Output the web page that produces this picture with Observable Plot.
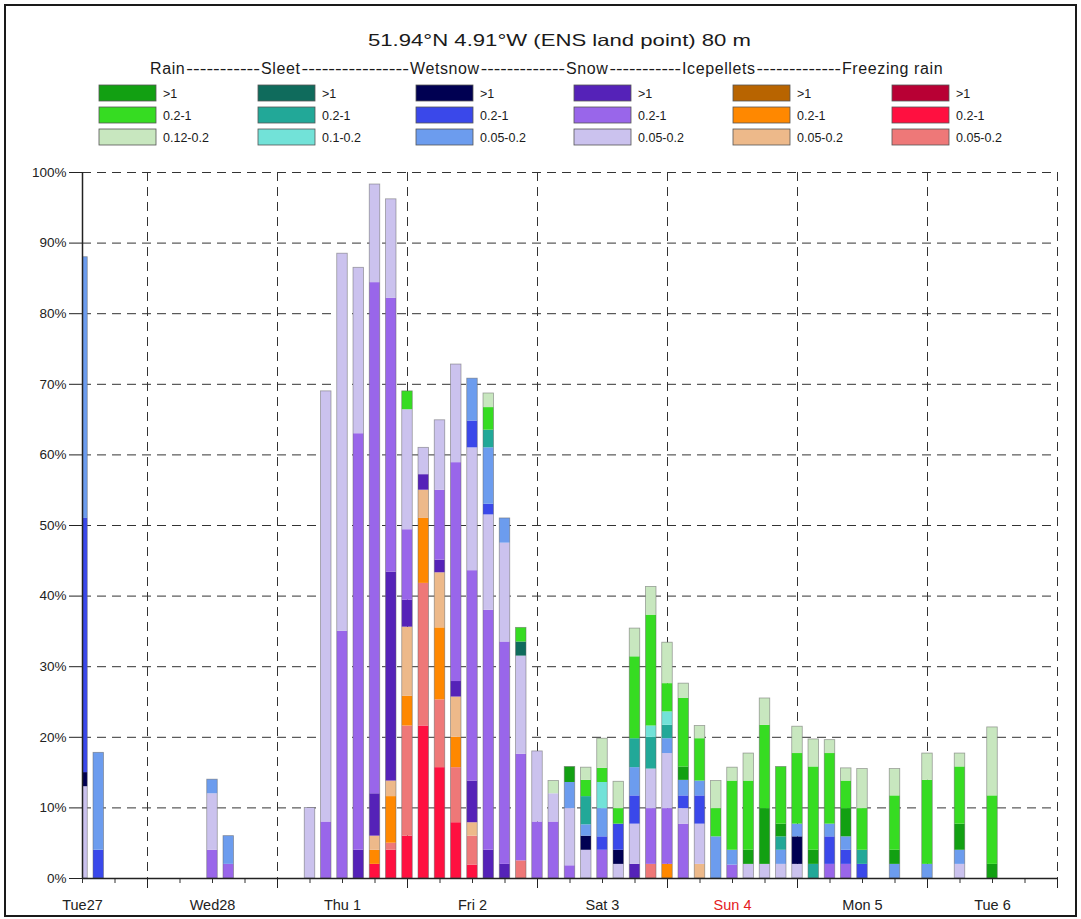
<!DOCTYPE html>
<html><head><meta charset="utf-8">
<script src="https://cdn.jsdelivr.net/npm/d3@7"></script>
<script src="https://cdn.jsdelivr.net/npm/@observablehq/plot@0.6"></script>
<style>
body{margin:0;background:#fff;font-family:"Liberation Sans",Arial,sans-serif;}
#wrap{position:relative;width:1081px;height:919px;overflow:hidden;background:#fff;}
#wrap svg{display:block;}
#frame{position:absolute;left:4px;top:4px;width:1069px;height:909px;border:2px solid #1a1a1a;pointer-events:none;}
</style></head><body><div id="wrap"><div id="frame"></div></div>
<script>
// ---------- data ----------
const title = "51.94°N 4.91°W (ENS land point) 80 m";
const groups = ["Rain","Sleet","Wetsnow","Snow","Icepellets","Freezing rain"];
const groupCodes = ["R","S","W","N","I","F"];
const classLabels = [
  [">1","0.2-1","0.12-0.2"],
  [">1","0.2-1","0.1-0.2"],
  [">1","0.2-1","0.05-0.2"],
  [">1","0.2-1","0.05-0.2"],
  [">1","0.2-1","0.05-0.2"],
  [">1","0.2-1","0.05-0.2"]
];
const groupColors = [
  ["#12a012","#36dc22","#c8e7bf"],
  ["#0f6b5c","#22a898","#72e2d8"],
  ["#000052","#3a48ea","#6c9cee"],
  ["#5522b8","#9966ea","#cbc2ee"],
  ["#b86400","#ff8800","#edb98a"],
  ["#b80034","#ff1040","#ee7878"]
];
const dayHours = [0,24,48,72,96,120,144,168];
const dayLabels = ["Tue27","Wed28","Thu 1","Fri 2","Sat 3","Sun 4","Mon 5","Tue 6"];
const gridHours = [12,36,60,84,108,132,156,180];
const yTicks = [0,10,20,30,40,50,60,70,80,90,100];

const times = [0,3,24,27,42,45,48,51,54,57,60,63,66,69,72,75,78,81,84,87,90,93,96,99,102,105,108,111,114,117,120,123,126,129,132,135,138,141,144,150,156,162,168];
const stacks = [
  [["N1",13],["W3",2],["W2",36],["W1",37]],
  [["W2",4],["W1",13.8]],
  [["N2",4],["N1",8],["W1",2]],
  [["N2",2],["W1",4]],
  [["N1",10]],
  [["N2",8],["N1",61]],
  [["N2",35],["N1",53.5]],
  [["N3",4],["N2",59],["N1",23.5]],
  [["F2",2],["I2",2],["I1",2],["N3",6],["N2",72.4],["N1",13.9]],
  [["F2",4],["F1",1],["I2",6.6],["I1",2.2],["N3",29.6],["N2",38.8],["N1",14]],
  [["F2",6],["F1",15.6],["I2",4.2],["I1",9.8],["N3",3.8],["N2",10],["N1",17],["R2",2.6]],
  [["F2",21.6],["F1",20.2],["I2",9.2],["I1",4],["N3",2.2],["N1",3.8]],
  [["F2",15.7],["F1",9.6],["I2",10.2],["I1",7.8],["N3",1.8],["N2",9.9],["N1",9.9]],
  [["F2",7.9],["F1",7.8],["I2",4.3],["I1",5.7],["N3",2.2],["N2",31],["N1",13.9]],
  [["F2",1.9],["F1",4.1],["I1",1.9],["N3",5.9],["N2",29.8],["N1",17.4],["W2",3.8],["W1",6]],
  [["N3",4],["N2",34],["N1",13.5],["W2",1.5],["W1",8],["S2",2.5],["R2",3.2],["R1",2]],
  [["N3",2],["N2",31.5],["N1",14],["W1",3.5]],
  [["F1",2.5],["N2",15.1],["N1",13.9],["S3",2],["R2",2]],
  [["N2",8],["N1",10]],
  [["N2",8],["N1",4],["R1",1.8]],
  [["N2",1.8],["N1",8.1],["W1",3.7],["R3",2.2]],
  [["N1",4],["W3",2],["W1",1.6],["S2",4],["R2",2.3],["R1",1.8]],
  [["N2",4],["W2",1.9],["W1",4],["S1",3.7],["R2",2],["R1",4.2]],
  [["N1",2],["W3",2],["W2",3.7],["R2",2.2],["R1",3.8]],
  [["N3",2],["N1",5.7],["W2",4],["W1",4],["S2",4.1],["R2",11.6],["R1",4]],
  [["F1",2],["N2",7.9],["N1",5.6],["S2",4.5],["S1",1.6],["R2",15.7],["R1",4]],
  [["I2",2],["N2",7.9],["N1",7.8],["W1",2.1],["S2",1.9],["S1",1.9],["R2",4],["R1",5.8]],
  [["N2",7.7],["N1",2.2],["W2",1.8],["W1",2.2],["R3",1.9],["R2",9.7],["R1",2.1]],
  [["I1",2],["N1",5.7],["W2",4],["W1",2.1],["R2",6],["R1",1.8]],
  [["W1",5.9],["R2",4],["R1",3.9]],
  [["N2",1.9],["W1",2.1],["R2",9.8],["R1",1.9]],
  [["N1",2],["R3",2],["R2",9.8],["R1",3.9]],
  [["N1",2],["R3",7.9],["R2",11.8],["R1",3.8]],
  [["N1",2],["W1",2],["S2",1.9],["R3",1.8],["R2",8.1]],
  [["N1",2],["W3",3.9],["W1",1.8],["R2",10],["R1",3.8]],
  [["S2",2],["R3",2],["R2",11.8],["R1",3.9]],
  [["N2",2],["W2",3.9],["W1",1.8],["R2",10],["R1",1.9]],
  [["N2",2],["W2",2],["W1",1.9],["R3",4],["R2",3.9],["R1",1.8]],
  [["W2",2],["S2",2],["R2",5.9],["R1",5.6]],
  [["W1",2],["R3",2],["R2",7.7],["R1",3.8]],
  [["W1",2],["R2",11.9],["R1",3.8]],
  [["N1",2],["W1",2],["R3",3.7],["R2",8.1],["R1",1.9]],
  [["R3",2],["R2",9.7],["R1",9.7]]
];

// ---------- derived ----------
const colorOf = {};
groupCodes.forEach((g, gi) => { colorOf[g+"3"] = groupColors[gi][0]; colorOf[g+"2"] = groupColors[gi][1]; colorOf[g+"1"] = groupColors[gi][2]; });
const rows = [];
times.forEach((t, i) => {
  let acc = 0;
  for (const [c, v] of stacks[i]) { rows.push({t, c, y1: acc, y2: acc + v}); acc += v; }
});
const totals = times.map((t, i) => ({t, total: d3.sum(stacks[i], d => d[1])}));
const halfW = 0.97;
const minorHours = d3.range(0, 181, 6);

const FONT = '"Liberation Sans", Arial, Helvetica, sans-serif';
const wrap = document.getElementById("wrap");

// ---------- header (title + legend) ----------
const H = 150;
const hdr = d3.create("svg").attr("width", 1081).attr("height", H)
  .attr("font-family", FONT).attr("fill", "#1a1a1a");
wrap.appendChild(hdr.node());
hdr.append("text").attr("x", 368).attr("y", 46).attr("font-size", 16.5)
  .attr("textLength", 383).attr("lengthAdjust", "spacingAndGlyphs").text(title);
const wordX = [150, 261, 410, 566, 682, 842];
const wordEls = groups.map((g, i) =>
  hdr.append("text").attr("x", wordX[i]).attr("y", 74).attr("font-size", 16)
    .attr("letter-spacing", 0.6).text(g));
groups.forEach((g, i) => {
  if (i < groups.length - 1) {
    const w = wordEls[i].node().getComputedTextLength();
    const x0 = wordX[i] + w + 1, x1 = wordX[i+1] - 1;
    const n = Math.max(1, Math.round((x1 - x0) / 6.6));
    hdr.append("text").attr("x", x0).attr("y", 74).attr("font-size", 16)
      .attr("textLength", x1 - x0).attr("lengthAdjust", "spacingAndGlyphs").text("-".repeat(n));
  }
});
const colX = [99, 258, 416, 574, 733, 892];
const rowY = [85, 107, 129];
groups.forEach((g, gi) => {
  for (let r = 0; r < 3; r++) {
    hdr.append("rect").attr("x", colX[gi]).attr("y", rowY[r]).attr("width", 57).attr("height", 16)
      .attr("fill", groupColors[gi][r]).attr("stroke", "#555").attr("stroke-width", 0.8);
    hdr.append("text").attr("x", colX[gi] + 64).attr("y", rowY[r] + 12.5).attr("font-size", 12.5)
      .text(classLabels[gi][r]);
  }
});

// ---------- plot ----------
const chart = Plot.plot({
  width: 1081,
  height: 919 - H,
  marginTop: 172 - H,
  marginLeft: 82,
  marginRight: 24,
  marginBottom: 41,
  x: {domain: [0, 180]},
  y: {domain: [0, 100]},
  style: {fontFamily: FONT, background: "transparent", color: "#222", overflow: "visible"},
  marks: [
    Plot.ruleY(yTicks.slice(1), {stroke: "#333", strokeDasharray: "9,6", strokeWidth: 1}),
    Plot.ruleX(gridHours, {stroke: "#333", strokeDasharray: "9,6", strokeWidth: 1}),
    Plot.rect(rows, {x1: d => d.t - halfW, x2: d => d.t + halfW, y1: "y1", y2: "y2", fill: d => colorOf[d.c], clip: true}),
    Plot.rect(totals, {x1: d => d.t - halfW, x2: d => d.t + halfW, y1: 0, y2: "total", fill: "none", stroke: "#666", strokeWidth: 0.8, strokeOpacity: 0.6, clip: true}),
    Plot.axisY({ticks: yTicks, tickFormat: d => d + "%", tickSize: 13, tickPadding: 3, fontSize: 13.5, stroke: "#222"}),
    Plot.axisX({ticks: minorHours, tickSize: 5, tickFormat: () => "", stroke: "#333"}),
    Plot.axisX({ticks: gridHours, tickSize: 10, tickFormat: () => "", stroke: "#222"}),
    Plot.ruleX([0], {stroke: "#222", strokeWidth: 1.5}),
    Plot.ruleY([0], {stroke: "#222", strokeWidth: 1.5}),
    Plot.text(dayHours, {x: d => d, y: 0, text: (d, i) => dayLabels[i], dy: 27, fontSize: 14.5,
      fill: (d, i) => dayLabels[i] === "Sun 4" ? "#e4201c" : "#222"})
  ]
});
wrap.appendChild(chart);
</script></body></html>
